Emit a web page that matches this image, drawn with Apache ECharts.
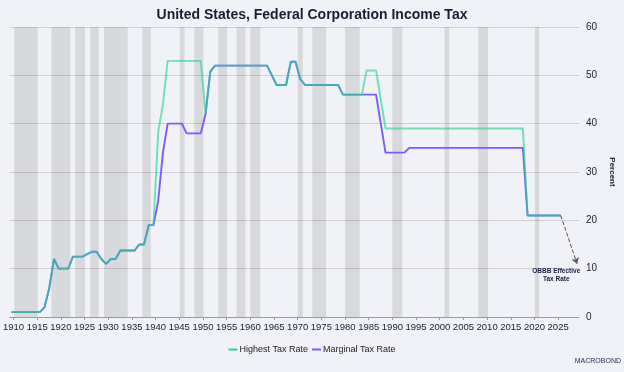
<!DOCTYPE html>
<html>
<head>
<meta charset="utf-8">
<script src="https://cdn.jsdelivr.net/npm/echarts@6/dist/echarts.min.js"></script>
<style>
html,body{margin:0;padding:0;background:#f1f2f7;}
#c{width:624px;height:372px;}
</style>
</head>
<body>
<div id="c"></div>
<script>
const firstYear = 1909;
const highest = [
  1,1,1,1,1,1,1,
  2,6,12,10,10,10,
  12.5,12.5,12.5,13,13.5,13.5,12,11,12,12,
  13.75,13.75,13.75,13.75,15,15,19,19,
  38.3,44,53,53,53,53,53,53,53,53,
  42,50.75,52,52,52,52,52,52,52,52,52,52,52,52,
  50,48,48,48,52.8,52.8,49.2,
  48,48,48,48,48,48,48,48,
  46,46,46,46,46,51,51,51,45,
  39,39,39,39,39,39,39,39,39,39,39,39,39,39,39,39,39,39,39,39,39,39,39,39,39,39,39,39,39,39,
  21,21,21,21,21,21,21,21
];
const marginal = [
  1,1,1,1,1,1,1,
  2,6,12,10,10,10,
  12.5,12.5,12.5,13,13.5,13.5,12,11,12,12,
  13.75,13.75,13.75,13.75,15,15,19,19,
  24,34,40,40,40,40,38,38,38,38,
  42,50.75,52,52,52,52,52,52,52,52,52,52,52,52,
  50,48,48,48,52.8,52.8,49.2,
  48,48,48,48,48,48,48,48,
  46,46,46,46,46,46,46,46,40,
  34,34,34,34,34,
  35,35,35,35,35,35,35,35,35,35,35,35,35,35,35,35,35,35,35,35,35,35,35,35,35,
  21,21,21,21,21,21,21,21
];
const years = highest.map((_, i) => firstYear + i);
const xTickLabels = [1910,1915,1920,1925,1930,1935,1940,1945,1950,1955,1960,1965,1970,1975,1980,1985,1990,1995,2000,2005,2010,2015,2020,2025];
const recessions = [
  [1910.15,1913.1],[1913.1,1915.1],[1918.0,1920.1],[1920.1,1922.0],[1923.0,1925.1],
  [1926.2,1928.0],[1929.1,1934.1],[1937.2,1939.0],[1945.1,1946.1],[1948.2,1950.1],
  [1953.2,1955.1],[1957.1,1959.0],[1960.0,1962.1],[1970.0,1971.1],[1973.1,1976.0],
  [1980.0,1983.1],[1990.0,1992.1],[2001.0,2002.0],[2008.1,2010.2],[2020.1,2021.0]
];
const arrowFrom = [2025.55, 21];
const arrowTo = [2029, 11];
const noteAt = [2024.6, 8.6];
const noteText = 'OBBB Effective\nTax Rate';

const F = '"Liberation Sans Narrow", "Liberation Sans", sans-serif';
const midYear = 0.55;

const chart = echarts.init(document.getElementById('c'), null, {renderer: 'canvas'});
chart.setOption({
  backgroundColor: '#f1f2f7',
  animation: false,
  title: {
    text: 'United States, Federal Corporation Income Tax',
    left: 'center', top: 3,
    textStyle: {fontFamily: F, fontWeight: 'bold', fontSize: 14, color: '#1c1c30'}
  },
  legend: {
    bottom: 13, left: 'center',
    itemWidth: 9, itemHeight: 2, itemGap: 4,
    icon: 'rect',
    textStyle: {fontFamily: F, fontSize: 9, color: '#222', padding: [0,0,0,-3]},
    data: ['Highest Tax Rate', 'Marginal Tax Rate']
  },
  grid: {left: 9, right: 37, top: 27, bottom: 55},
  xAxis: {
    type: 'value', min: 1909.2, max: 2029.4,
    axisLine: {show: true, lineStyle: {color: '#9a9aa0', width: 1}},
    axisTick: {show: true, length: 3, lineStyle: {color: '#9a9aa0'}, customValues: xTickLabels},
    axisLabel: {fontFamily: F, fontSize: 9.5, color: '#1c1c30', margin: 5,
                customValues: xTickLabels, formatter: v => String(Math.round(v)),
                showMinLabel: true, showMaxLabel: true, hideOverlap: false},
    splitLine: {show: false}
  },
  yAxis: {
    type: 'value', position: 'right', min: 0, max: 60, interval: 10,
    name: 'Percent', nameLocation: 'middle', nameRotate: -90, nameGap: 28,
    nameTextStyle: {fontFamily: F, fontSize: 8, fontWeight: 'bold', color: '#1c1c30'},
    axisLine: {show: false}, axisTick: {show: false},
    axisLabel: {fontFamily: F, fontSize: 10, color: '#1c1c30', margin: 7},
    splitLine: {show: true, lineStyle: {color: '#cfcfd4', width: 1}}
  },
  series: [
    {
      name: 'Marginal Tax Rate', type: 'line', z: 2,
      data: years.map((y, i) => [y + midYear, marginal[i]]),
      showSymbol: false, symbol: 'none',
      itemStyle: {color: '#7a5cff'},
      lineStyle: {color: '#7a5cff', width: 1.9},
      markArea: {
        silent: true,
        itemStyle: {color: 'rgba(0,0,0,0.1)'},
        data: recessions.map(([a, b]) => [{xAxis: a}, {xAxis: b}])
      }
    },
    {
      name: 'Highest Tax Rate', type: 'line', z: 3,
      data: years.map((y, i) => [y + midYear, highest[i]]),
      showSymbol: false, symbol: 'none',
      itemStyle: {color: '#28d68c'},
      lineStyle: {color: '#28d68c', width: 1.9, opacity: 0.65},
      markLine: {
        silent: true, symbol: ['none', 'arrow'], symbolSize: 6,
        label: {show: false},
        lineStyle: {color: '#555', type: 'dashed', width: 1},
        data: [[{coord: arrowFrom}, {coord: arrowTo}]]
      },
      markPoint: {
        silent: true, symbol: 'circle', symbolSize: 0,
        label: {show: true, formatter: noteText, fontFamily: F, fontSize: 6.5, fontWeight: 'bold',
                color: '#1c1c40', lineHeight: 8, align: 'center', verticalAlign: 'middle'},
        data: [{coord: noteAt}]
      }
    }
  ],
  graphic: [{
    type: 'text', right: 3, top: 358,
    style: {text: 'MACROBOND', font: '7px ' + F, fill: '#2a2a55'}
  }]
});
</script>
</body>
</html>
